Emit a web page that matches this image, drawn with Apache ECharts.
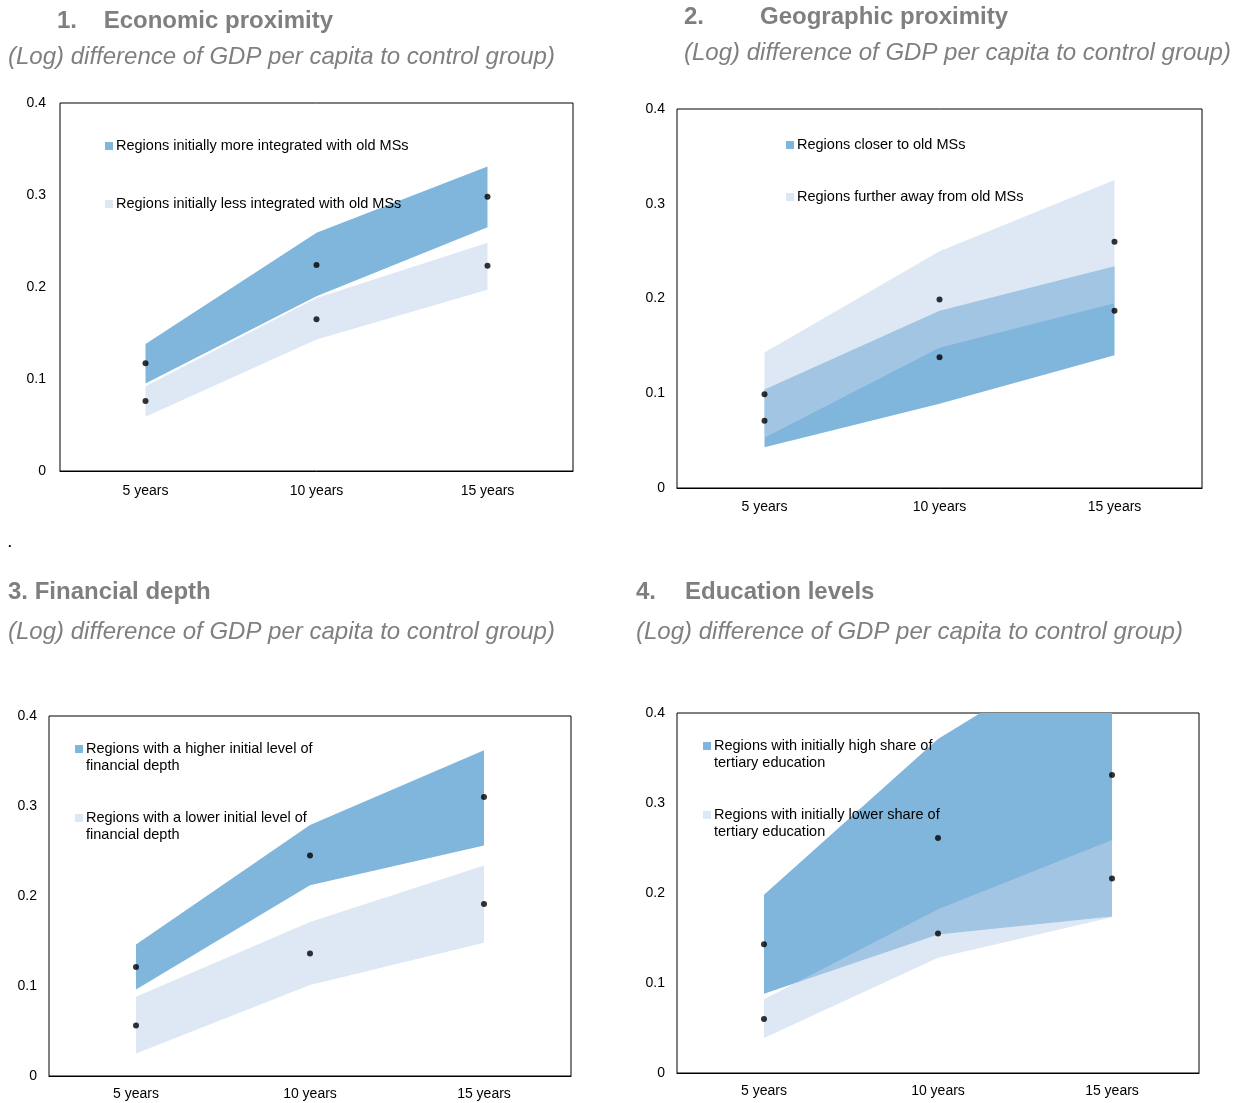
<!DOCTYPE html>
<html>
<head>
<meta charset="utf-8">
<script src="https://cdn.jsdelivr.net/npm/echarts@6/dist/echarts.min.js"></script>
<style>
  html, body { margin: 0; padding: 0; background: #fff; }
  #chart { width: 1238px; height: 1103px; }
</style>
</head>
<body>
<div id="chart"></div>
<script>
// Horizons after accession
const categories = ['5 years', '10 years', '15 years'];
const yTicks = [0, 0.1, 0.2, 0.3, 0.4];

// 1. Economic proximity: confidence bands (low/high) and point estimates
const econMoreLow = [0.095, 0.190, 0.265];
const econMoreHigh = [0.138, 0.259, 0.331];
const econMorePoint = [0.117, 0.224, 0.298];
const econLessLow = [0.059, 0.143, 0.197];
const econLessHigh = [0.092, 0.188, 0.248];
const econLessPoint = [0.076, 0.165, 0.223];

// 2. Geographic proximity
const geoCloserLow = [0.043, 0.089, 0.140];
const geoCloserHigh = [0.104, 0.187, 0.234];
const geoCloserPoint = [0.071, 0.138, 0.187];
const geoFurtherLow = [0.053, 0.148, 0.195];
const geoFurtherHigh = [0.143, 0.250, 0.325];
const geoFurtherPoint = [0.099, 0.199, 0.260];

// 3. Financial depth
const finHigherLow = [0.096, 0.212, 0.256];
const finHigherHigh = [0.146, 0.279, 0.362];
const finHigherPoint = [0.121, 0.245, 0.310];
const finLowerLow = [0.025, 0.101, 0.148];
const finLowerHigh = [0.088, 0.171, 0.234];
const finLowerPoint = [0.056, 0.136, 0.191];

// 4. Education levels
const eduHighLow = [0.088, 0.154, 0.174];
const eduHighHigh = [0.198, 0.371, 0.490];
const eduHighPoint = [0.143, 0.261, 0.331];
const eduLowLow = [0.039, 0.128, 0.173];
const eduLowHigh = [0.082, 0.182, 0.259];
const eduLowPoint = [0.060, 0.155, 0.216];

const FONT = '"Liberation Sans", Arial, sans-serif';
const DARK = '#80b5dc';
const LIGHT = 'rgba(190, 211, 234, 0.53)'; // reads as #dde8f4 on white, mid blue where it overlaps DARK

const subtitleText = '(Log) difference of GDP per capita to control group)';

// Band drawn as an invisible stacked base plus a filled width series
function band(name, low, high, color, gridIndex, stackId) {
  return [
    {
      type: 'line', name: name + ' (base)', stack: stackId,
      xAxisIndex: gridIndex, yAxisIndex: gridIndex,
      data: low, symbol: 'none', lineStyle: { width: 0, opacity: 0 },
      silent: true, z: 2
    },
    {
      type: 'line', name: name, stack: stackId,
      xAxisIndex: gridIndex, yAxisIndex: gridIndex,
      data: high.map((h, i) => +(h - low[i]).toFixed(4)),
      symbol: 'none', lineStyle: { width: 0, opacity: 0 },
      itemStyle: { color: color },
      areaStyle: { color: color, opacity: 1 },
      silent: true, z: 2
    }
  ];
}

function dots(name, values, gridIndex) {
  return {
    type: 'scatter', name: name, xAxisIndex: gridIndex, yAxisIndex: gridIndex,
    data: values, symbolSize: 6, itemStyle: { color: '#000' }, z: 5, silent: true
  };
}

const grids = [
  { left: 60, top: 103, width: 513, height: 368 },
  { left: 677, top: 109, width: 525, height: 379 },
  { left: 49, top: 716, width: 522, height: 360 },
  { left: 677, top: 713, width: 522, height: 360 }
];
const yLabelMargin = [14, 12, 12, 12];
const xLabelMargin = [12, 11, 10, 10];

const legendNames = {
  econMore: 'Regions initially more integrated with old MSs',
  econLess: 'Regions initially less integrated with old MSs',
  geoCloser: 'Regions closer to old MSs',
  geoFurther: 'Regions further away from old MSs',
  finHigher: 'Regions with a higher initial level of\nfinancial depth',
  finLower: 'Regions with a lower initial level of\nfinancial depth',
  eduHigh: 'Regions with initially high share of\ntertiary education',
  eduLow: 'Regions with initially lower share of\ntertiary education'
};

// Two-line entries get a blank leading line so the swatch sits beside the first line
function legendItem(name, color, left, top, twoLine) {
  return {
    left: left, top: top, orient: 'vertical', padding: 0,
    itemWidth: 8, itemHeight: 8, itemGap: 0, selectedMode: false,
    icon: 'rect',
    data: [{ name: name, icon: 'rect', itemStyle: { color: color } }],
    formatter: twoLine ? (n => ' \n' + n) : (n => n),
    textStyle: { fontFamily: FONT, fontSize: 14.5, color: '#000', lineHeight: 17, padding: [0, 0, 0, -2] }
  };
}

const titleStyle = { fontFamily: FONT, fontSize: 24, fontWeight: 'bold', color: '#7f7f7f' };
const subStyle = { fontFamily: FONT, fontSize: 24, fontStyle: 'italic', fontWeight: 'normal', color: '#7f7f7f' };

const option = {
  animation: false,
  backgroundColor: '#fff',
  title: [
    { text: '1.    Economic proximity', left: 57, top: 9, padding: 0, textStyle: titleStyle },
    { text: subtitleText, left: 8, top: 45, padding: 0, textStyle: subStyle },
    { text: '2.', left: 684, top: 5, padding: 0, textStyle: titleStyle },
    { text: 'Geographic proximity', left: 760, top: 5, padding: 0, textStyle: titleStyle },
    { text: subtitleText, left: 684, top: 41, padding: 0, textStyle: subStyle },
    { text: '.', left: 8, top: 537, padding: 0, textStyle: { fontFamily: FONT, fontSize: 13, color: '#000' } },
    { text: '3. Financial depth', left: 8, top: 580, padding: 0, textStyle: titleStyle },
    { text: subtitleText, left: 8, top: 620, padding: 0, textStyle: subStyle },
    { text: '4.', left: 636, top: 580, padding: 0, textStyle: titleStyle },
    { text: 'Education levels', left: 685, top: 580, padding: 0, textStyle: titleStyle },
    { text: subtitleText, left: 636, top: 620, padding: 0, textStyle: subStyle }
  ],
  legend: [
    legendItem(legendNames.econMore, DARK, 105, 137.5, false),
    legendItem(legendNames.econLess, LIGHT, 105, 195.5, false),
    legendItem(legendNames.geoCloser, DARK, 786, 136.5, false),
    legendItem(legendNames.geoFurther, LIGHT, 786, 188.5, false),
    legendItem(legendNames.finHigher, DARK, 75, 723.5, true),
    legendItem(legendNames.finLower, LIGHT, 75, 792.5, true),
    legendItem(legendNames.eduHigh, DARK, 703, 720.5, true),
    legendItem(legendNames.eduLow, LIGHT, 703, 789.5, true)
  ],
  grid: grids.map(g => Object.assign({ show: true, borderColor: '#000', borderWidth: 1, backgroundColor: 'transparent' }, g)),
  xAxis: grids.map((g, i) => ({
    type: 'category', gridIndex: i, data: categories, boundaryGap: true,
    axisLine: { show: true, lineStyle: { color: '#000', width: 1 } },
    axisTick: { show: false },
    axisLabel: { fontFamily: FONT, fontSize: 14, color: '#000', margin: xLabelMargin[i] + 1 },
    splitLine: { show: false }
  })),
  yAxis: grids.map((g, i) => ({
    type: 'value', gridIndex: i,
    min: yTicks[0], max: yTicks[yTicks.length - 1], interval: 0.1,
    axisLine: { show: false }, axisTick: { show: false },
    splitLine: { show: false },
    axisLabel: { fontFamily: FONT, fontSize: 14, color: '#000', margin: yLabelMargin[i] }
  })),
  series: [
    ...band(legendNames.econMore, econMoreLow, econMoreHigh, DARK, 0, 'econMore'),
    ...band(legendNames.econLess, econLessLow, econLessHigh, LIGHT, 0, 'econLess'),
    dots('econMore point', econMorePoint, 0),
    dots('econLess point', econLessPoint, 0),

    ...band(legendNames.geoCloser, geoCloserLow, geoCloserHigh, DARK, 1, 'geoCloser'),
    ...band(legendNames.geoFurther, geoFurtherLow, geoFurtherHigh, LIGHT, 1, 'geoFurther'),
    dots('geoCloser point', geoCloserPoint, 1),
    dots('geoFurther point', geoFurtherPoint, 1),

    ...band(legendNames.finHigher, finHigherLow, finHigherHigh, DARK, 2, 'finHigher'),
    ...band(legendNames.finLower, finLowerLow, finLowerHigh, LIGHT, 2, 'finLower'),
    dots('finHigher point', finHigherPoint, 2),
    dots('finLower point', finLowerPoint, 2),

    ...band(legendNames.eduHigh, eduHighLow, eduHighHigh, DARK, 3, 'eduHigh'),
    ...band(legendNames.eduLow, eduLowLow, eduLowHigh, LIGHT, 3, 'eduLow'),
    dots('eduHigh point', eduHighPoint, 3),
    dots('eduLow point', eduLowPoint, 3)
  ]
};

const chart = echarts.init(document.getElementById('chart'), null, { renderer: 'canvas' });
chart.setOption(option);
</script>
</body>
</html>
